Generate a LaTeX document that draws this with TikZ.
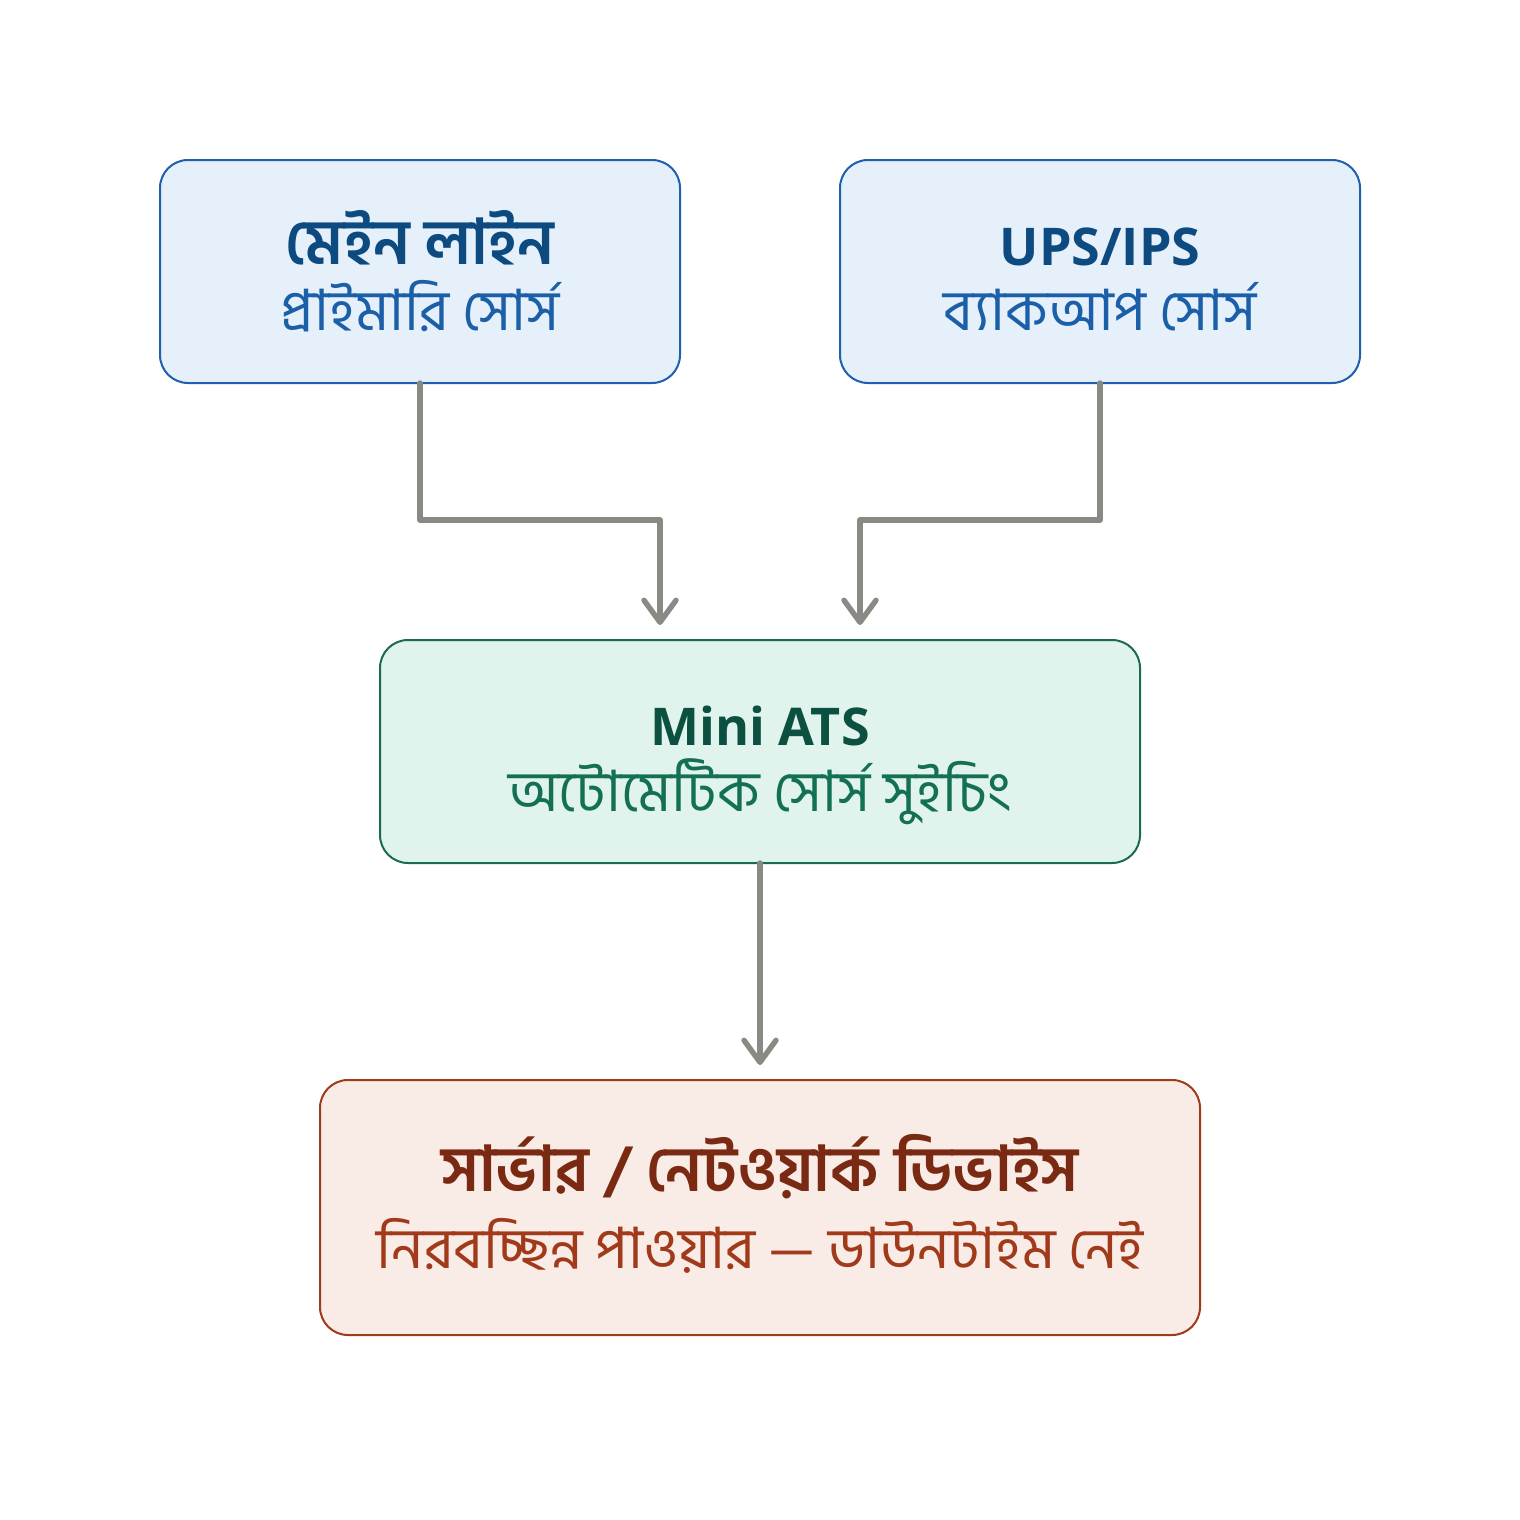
\documentclass[tikz,border=0pt]{standalone}
\usepackage{fontspec}
\setmainfont{Open Sans}
\newfontfamily\bn[Script=Bengali]{Hind Siliguri}
\usetikzlibrary{arrows.meta}
\definecolor{bfill}{HTML}{E6F0FA}
\definecolor{bdraw}{HTML}{1F5FAF}
\definecolor{btitle}{HTML}{0D4A80}
\definecolor{bsub}{HTML}{1A5FA8}
\definecolor{gfill}{HTML}{E0F3EC}
\definecolor{gdraw}{HTML}{1A6B50}
\definecolor{gtitle}{HTML}{0B5040}
\definecolor{gsub}{HTML}{137055}
\definecolor{rfill}{HTML}{F9EBE6}
\definecolor{rdraw}{HTML}{A03A1A}
\definecolor{rtitle}{HTML}{7A2A12}
\definecolor{rsub}{HTML}{A03A1A}
\definecolor{arr}{HTML}{8A8A85}
\tikzset{
  box/.style={rounded corners=14pt, line width=1pt},
  conn/.style={draw=arr, line width=2.7pt, line join=round, line cap=round,
    -{Straight Barb[length=11pt,width=16pt,line width=2.7pt,round]}},
  ttl/.style={anchor=base, font=\fontsize{31.5}{36}\selectfont},
  lttl/.style={anchor=base, font=\fontsize{26}{32}\selectfont},
  sub/.style={anchor=base, font=\fontsize{28.5}{32}\selectfont},
}
\begin{document}
\begin{tikzpicture}[x=0.5pt,y=-0.5pt]
\useasboundingbox (0,0) rectangle (1520,1520);
\fill[white] (0,0) rectangle (1520,1520);
% boxes
\draw[box, fill=bfill, draw=bdraw] (160,160) rectangle (680,383);
\coordinate (b1) at (420,383);
\draw[box, fill=bfill, draw=bdraw] (840,160) rectangle (1360,383);
\coordinate (b2) at (1100,383);
\draw[box, fill=gfill, draw=gdraw] (380,640) rectangle (1140,863);
\coordinate (g) at (760,863);
\draw[box, fill=rfill, draw=rdraw] (320,1080) rectangle (1200,1335);
% texts
\node[ttl, text=btitle] (t1) at (420,264) {\bn\bfseries মেইন লাইন};
\node[sub, text=bsub] (s1) at (420,330) {\bn প্রাইমারি সোর্স};
\node[lttl, text=btitle] (t2) at (1100,265) {\bfseries UPS/IPS};
\node[sub, text=bsub] (s2) at (1100,330) {\bn ব্যাকআপ সোর্স};
\node[lttl, text=gtitle] (t3) at (760,745) {\bfseries Mini ATS};
\node[sub, text=gsub] (s3) at (760,811) {\bn অটোমেটিক সোর্স সুইচিং};
\node[ttl, text=rtitle] (t4) at (760,1191) {\bn\bfseries সার্ভার / নেটওয়ার্ক ডিভাইস};
\node[sub, text=rsub] (s4) at (760,1268) {\bn নিরবচ্ছিন্ন পাওয়ার — ডাউনটাইম নেই};
% connectors
\coordinate (a1) at (660,625);
\coordinate (a2) at (860,625);
\coordinate (a3) at (760,1065);
\draw[conn] (b1) -- (420,520) -- (660,520) -- (a1);
\draw[conn] (b2) -- (1100,520) -- (860,520) -- (a2);
\draw[conn] (g) -- (a3);
\end{tikzpicture}
\end{document}
